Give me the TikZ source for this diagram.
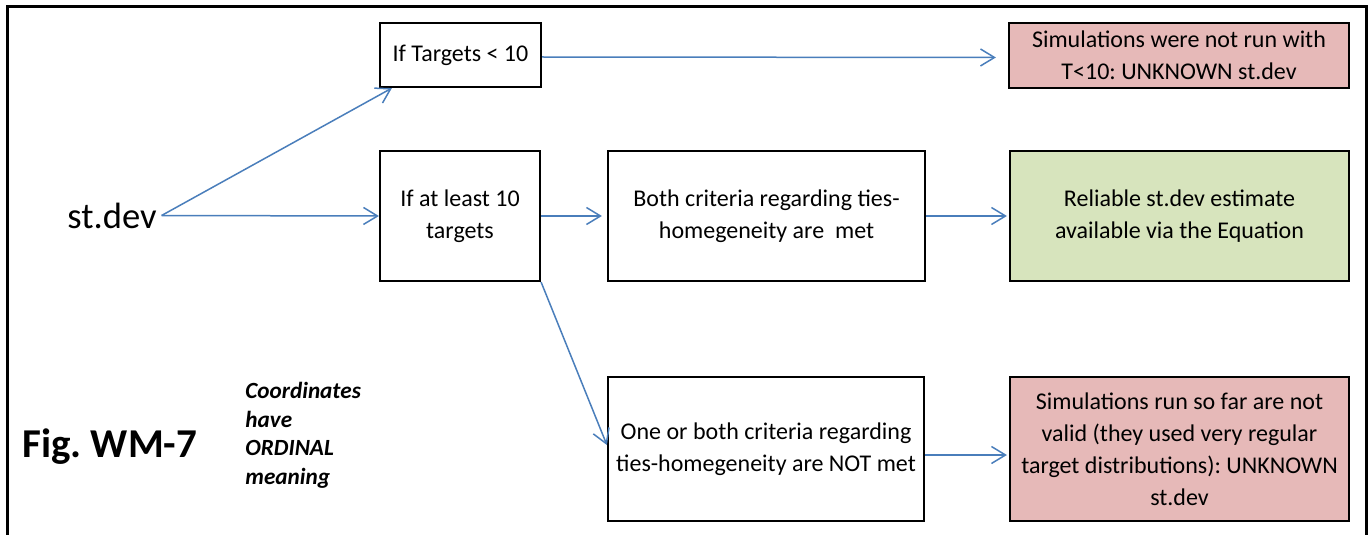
\documentclass[tikz,border=0pt]{standalone}
\usepackage{fontspec}
\setmainfont{Carlito}
\usetikzlibrary{arrows.meta}
\definecolor{arrowblue}{RGB}{74,126,187}
\definecolor{pinkfill}{RGB}{230,185,184}
\definecolor{greenfill}{RGB}{215,228,189}
\frenchspacing
\begin{document}
\begin{tikzpicture}[x=0.5pt,y=-0.5pt,
  box/.style={draw=black, line width=1.1pt, align=center, inner sep=0pt, font=\fontsize{12}{16}\selectfont},
  conn/.style={draw=arrowblue, line width=0.75pt, -{Straight Barb[length=7pt,width=8.5pt]}},
  frame/.style={line width=1.5pt}
 ]
\useasboundingbox (0,0) rectangle (1372,535);
\draw[frame] (7,535) -- (7,7) -- (1366,7) -- (1366,535);

\node[box, minimum width=80.5pt, minimum height=32pt] (t1) at (460.5,55) {If Targets < 10};
\node[box, fill=pinkfill, minimum width=170pt, minimum height=32.5pt] (p1) at (1179,55.5) {Simulations were not run with\\T<10: UNKNOWN st.dev};
\node[box, minimum width=80pt, minimum height=65pt] (b2) at (460,216) {If at least 10\\targets};
\node[box, minimum width=158.5pt, minimum height=65pt] (m) at (766.5,216) {Both criteria regarding ties-\\homegeneity are\ \ met};
\node[box, fill=greenfill, minimum width=169.5pt, minimum height=65pt] (g) at (1179.5,216) {Reliable st.dev estimate\\available via the Equation};
\node[box, minimum width=158pt, minimum height=72pt] (nm) at (766,449) {One or both criteria regarding\\ties-homegeneity are NOT met};
\node[box, fill=pinkfill, minimum width=169.5pt, minimum height=72pt] (p2) at (1179.5,449) {Simulations run so far are not\\valid (they used very regular\\target distributions): UNKNOWN\\st.dev};

\node[font=\fontsize{18.3}{22}\selectfont, inner sep=0pt, outer sep=2.5pt] (sd) at (112,215.5) {st.dev};
\node[font=\bfseries\fontsize{20.5}{24}\selectfont, anchor=base west, inner sep=0pt] (fig) at (22,457) {Fig. WM-7};
\node[font=\bfseries\itshape\fontsize{11.6}{14.25}\selectfont, align=left, anchor=north west, inner sep=0pt] (coord) at (245,382) {Coordinates\\have\\ORDINAL\\meaning};

\draw[conn] (sd.east) -- (b2.west);
\draw[conn] (sd.east) -- ([xshift=6.5pt]t1.south west);
\draw[conn, shorten >=6pt] ([yshift=-1pt]t1.east) -- ([yshift=-1pt]p1.west);
\draw[conn, shorten >=2.5pt] (b2.east) -- (m.west);
\draw[conn, shorten >=1pt] (m.east) -- (g.west);
\draw[conn] (b2.south east) -- ([yshift=2pt]nm.west);
\draw[conn, shorten >=1pt] ([yshift=-3pt]nm.east) -- ([yshift=-3pt]p2.west);
\end{tikzpicture}
\end{document}
